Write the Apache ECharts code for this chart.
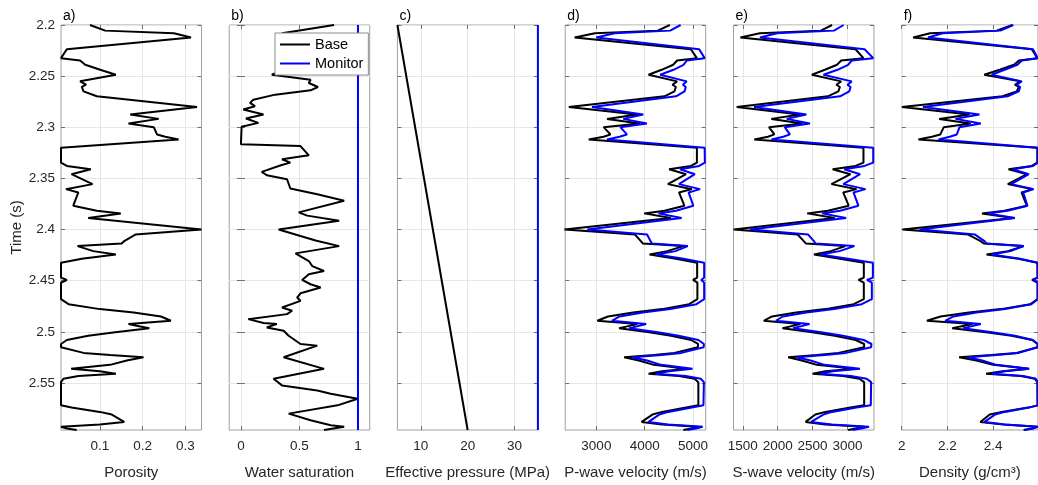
<!DOCTYPE html>
<html><head><meta charset="utf-8">
<script src="https://cdn.jsdelivr.net/npm/echarts@6/dist/echarts.min.js"></script>
<style>html,body{margin:0;padding:0;background:#fff}#c{width:1038px;height:485px}</style>
</head><body><div id="c"></div><script>
// ---- data (time in s) ----
const time = [2.2000,2.2055,2.2081,2.2123,2.2237,2.2324,2.2347,2.2389,2.2438,2.2486,
2.2551,2.2584,2.2606,2.2649,2.2697,2.2801,2.2875,2.2918,2.2963,2.2999,
2.3070,2.3093,2.3119,2.3200,2.3346,2.3378,2.3411,2.3459,2.3556,2.3605,
2.3637,2.3767,2.3816,2.3842,2.3887,2.4000,2.4049,2.4113,2.4136,2.4162,
2.4211,2.4243,2.4285,2.4324,2.4470,2.4493,2.4519,2.4681,2.4730,2.4778,
2.4811,2.4850,2.4892,2.4924,2.4947,2.4966,2.5005,2.5038,2.5080,2.5119,
2.5151,2.5206,2.5226,2.5248,2.5281,2.5323,2.5362,2.5385,2.5411,2.5433,
2.5459,2.5492,2.5719,2.5741,2.5783,2.5809,2.5881,2.5907,2.5929,2.5946,2.5960];
const porosity = [0.077,0.1125,0.273,0.313,0.023,0.0094,0.054,0.066,0.101,0.1375,
0.054,0.068,0.058,0.062,0.093,0.327,0.171,0.2375,0.167,0.226,
0.2336,0.253,0.284,0.0094,0.0094,0.023,0.079,0.034,0.083,0.021,
0.05,0.038,0.093,0.149,0.073,0.3375,0.183,0.157,0.151,0.048,
0.085,0.1375,0.058,0.0094,0.0094,0.023,0.0094,0.0094,0.027,0.1,
0.179,0.243,0.266,0.167,0.1945,0.2156,0.136,0.073,0.023,0.0094,
0.0094,0.062,0.124,0.202,0.163,0.124,0.033,0.1,0.1375,0.05,
0.015,0.0094,0.0094,0.034,0.1,0.128,0.157,0.1,0.0094,0.023,0.046];
const vpBase = [4520,4270,2970,2550,4955,5080,4670,4590,4350,4080,
4670,4575,4645,4615,4410,2430,3840,3220,3900,3150,
3290,3150,2842,5080,5080,4955,4505,4855,4480,4975,
4710,4820,4410,3990,4545,2340,3800,3920,3960,4800,
4465,4100,4645,5085,5085,5000,5090,5090,4920,4360,
3760,3240,3020,3850,3640,3470,4095,4545,4960,5105,
5100,4615,4190,3575,3880,4190,4865,4360,4080,4710,
5030,5110,5110,4855,4360,4160,3935,4360,5110,4960,4800];
const vpMonitor = [4743,4527,3379,2997,5127,5240,4871,4803,4596,4320,
4870,4790,4850,4824,4648,2910,3970,3557,4045,3495,
3632,3480,3220,5240,5245,5127,4730,5037,4709,5145,
4908,5006,4648,4282,4764,2810,4050,4120,4150,4890,
4635,4250,4800,5230,5230,5170,5230,5230,5070,4530,
3960,3480,3320,4030,3840,3680,4270,4700,5110,5225,
5220,4760,4350,3740,4050,4340,4990,4500,4220,4850,
5160,5225,5215,4975,4490,4300,4080,4480,5200,5060,4880];
const vsBase = [2780,2618,1744,1465,3116,3230,2911,2851,2676,2490,
2911,2841,2892,2870,2719,1412,2317,1909,2356,1875,
1952,1860,1664,3230,3230,3116,2788,3044,2771,3131,
2939,3018,2719,2423,2818,1368,2286,2374,2403,2970,
2760,2520,2892,3235,3235,3160,3235,3235,3090,2683,
2265,1918,1800,2326,2183,2069,2495,2818,3120,3240,
3240,2870,2561,2150,2347,2561,3100,2683,2500,2939,
3170,3240,3240,3044,2683,2540,2400,2683,3240,3120,3010];
const vsMonitor = [2945,2807,1990,1745,3246,3370,3061,3010,2858,2656,
3061,3001,3045,3026,2895,1660,2411,2129,2462,2100,
2175,2080,1910,3370,3370,3246,2955,3181,2941,3259,
3087,3157,2895,2636,2981,1600,2437,2519,2542,3100,
2887,2610,3008,3365,3365,3280,3350,3350,3204,2809,
2410,2071,1975,2456,2327,2220,2623,2934,3235,3345,
3340,2980,2679,2270,2471,2671,3180,2790,2600,3050,
3275,3340,3335,3130,2780,2654,2480,2770,3310,3200,3070];
const rhoBase = [2.484,2.415,2.124,2.050,2.569,2.593,2.513,2.491,2.428,2.361,
2.518,2.495,2.512,2.503,2.441,2.001,2.297,2.164,2.302,2.184,
2.169,2.132,2.073,2.593,2.593,2.569,2.467,2.548,2.464,2.573,
2.524,2.547,2.449,2.351,2.488,2.003,2.291,2.345,2.359,2.532,
2.464,2.371,2.510,2.593,2.594,2.570,2.594,2.594,2.562,2.433,
2.294,2.170,2.110,2.310,2.258,2.221,2.369,2.481,2.570,2.594,
2.594,2.502,2.392,2.251,2.327,2.400,2.555,2.440,2.369,2.521,
2.583,2.593,2.594,2.553,2.437,2.385,2.344,2.445,2.594,2.571,2.533];
const rhoMonitor = [2.488,2.432,2.179,2.115,2.574,2.595,2.525,2.506,2.450,2.393,
2.525,2.503,2.518,2.512,2.463,2.093,2.340,2.235,2.346,2.253,
2.241,2.210,2.161,2.595,2.595,2.574,2.485,2.556,2.479,2.577,
2.531,2.550,2.463,2.375,2.495,2.078,2.321,2.362,2.371,2.534,
2.476,2.393,2.518,2.595,2.595,2.574,2.595,2.595,2.567,2.452,
2.327,2.226,2.190,2.346,2.303,2.269,2.395,2.495,2.574,2.595,
2.595,2.512,2.414,2.291,2.352,2.414,2.558,2.452,2.393,2.531,
2.586,2.595,2.595,2.556,2.452,2.408,2.362,2.452,2.595,2.574,2.537];
const swTime = [2.2000,2.2081,2.2150,2.2280,2.2400,2.2486,2.2535,2.2567,2.2606,2.2639,
2.2681,2.2730,2.2762,2.2794,2.2827,2.2875,2.2914,2.2957,2.2995,2.3167,
2.3184,2.3274,2.3313,2.3346,2.3372,2.3436,2.3469,2.3508,2.3599,2.3654,
2.3719,2.3832,2.3864,2.3913,2.4000,2.4107,2.4162,2.4233,2.4308,2.4357,
2.4405,2.4438,2.4493,2.4535,2.4567,2.4623,2.4665,2.4697,2.4762,2.4794,
2.4827,2.4876,2.4914,2.4924,2.4957,2.4989,2.5038,2.5119,2.5135,2.5248,
2.5362,2.5459,2.5524,2.5573,2.5605,2.5654,2.5719,2.5800,2.5864,2.5913,
2.5929,2.5960];
const swBase = [0.796,0.351,0.40,0.55,0.45,0.264,0.595,0.580,0.658,0.595,
0.293,0.106,0.078,0.12,0.020,0.193,0.043,0.149,0.006,0.000,
0.509,0.580,0.351,0.422,0.342,0.178,0.221,0.394,0.422,0.652,
0.882,0.494,0.566,0.839,0.322,0.638,0.839,0.466,0.580,0.609,
0.710,0.580,0.523,0.595,0.681,0.509,0.480,0.509,0.351,0.437,
0.394,0.063,0.193,0.307,0.221,0.365,0.408,0.509,0.652,0.365,
0.710,0.279,0.351,0.652,0.767,0.997,0.825,0.408,0.595,0.767,
0.882,0.710];
const swMonitorTime = [2.2, 2.596];
const swMonitor = [1, 1];
const pressureTime = [2.2, 2.596];
const pressureBase = [5, 20];
const pressureMonitor = [35, 35];
// tick labels
const timeTicks = [2.2,2.25,2.3,2.35,2.4,2.45,2.5,2.55];
const porosityTicks = [0.1,0.2,0.3];
const swTicks = [0,0.5,1];
const pressureTicks = [10,20,30];
const vpTicks = [3000,4000,5000];
const vsTicks = [1500,2000,2500,3000];
const rhoTicks = [2,2.2,2.4,2.6];
const panelTitles = ['Porosity','Water saturation','Effective pressure (MPa)','P-wave velocity (m/s)','S-wave velocity (m/s)','Density (g/cm³)'];
const panelLetters = ['a)','b)','c)','d)','e)','f)'];

// ---- layout ----
const FONT = '"Liberation Sans", Arial, Helvetica, sans-serif';
const TXT = '#262626';
const TOP = 25, H = 406.7, W = 140.5;
const lefts = [61, 229.2, 397.4, 565.2, 733.5, 901.7];
const xRanges = [[0.0094,0.3375],[-0.1,1.1],[5,35],[2355,5262],[1366,3381],[2.0,2.596]];
const xTickSets = [porosityTicks, swTicks, pressureTicks, vpTicks, vsTicks, rhoTicks];
const yMin = 2.2, yMax = 2.596;

const pairs = (xs, ts) => ts.map((t,i)=>[xs[i], t]);

const grids = [], xAxes = [], yAxes = [], titles = [];
const tickStyle = {color:'#6e6e6e'};
for (let i=0;i<6;i++){
  grids.push({left:lefts[i], top:TOP, width:W, height:H, show:true, borderColor:'#a0a0a0', borderWidth:1, backgroundColor:'transparent'});
  xAxes.push({type:'value', gridIndex:i, min:xRanges[i][0], max:xRanges[i][1], position:'bottom',
    axisLine:{show:false},
    axisTick:{show:true, inside:true, length:4, customValues:xTickSets[i], lineStyle:tickStyle},
    axisLabel:{customValues:xTickSets[i], color:TXT, fontSize:13.5, fontFamily:FONT, margin:9, formatter:v=>String(v)},
    splitLine:{show:true, lineStyle:{color:'#e6e6e6', width:1}},
    name:panelTitles[i], nameLocation:'middle', nameGap:35,
    nameTextStyle:{color:TXT, fontSize:15, fontFamily:FONT}});
  yAxes.push({type:'value', gridIndex:i, min:yMin, max:yMax, inverse:true,
    axisLine:{show:false},
    axisTick:{show:true, inside:true, length:4, customValues:timeTicks, lineStyle:tickStyle},
    axisLabel:{show:i===0, customValues:timeTicks, color:TXT, fontSize:13.5, fontFamily:FONT, margin:6, formatter:v=>String(v)},
    splitLine:{show:true, lineStyle:{color:'#e6e6e6', width:1}},
    name: i===0 ? 'Time (s)' : '', nameLocation:'middle', nameGap:37,
    nameTextStyle:{color:TXT, fontSize:15, fontFamily:FONT}});
  titles.push({text:panelLetters[i], left:lefts[i]+2, top:9, padding:0,
    textStyle:{fontSize:14, fontWeight:'normal', color:'#000', fontFamily:FONT}});
}
// mirrored ticks on top and right edges (box style)
for (let i=0;i<6;i++){
  xAxes.push({type:'value', gridIndex:i, min:xRanges[i][0], max:xRanges[i][1], position:'top',
    axisLine:{show:false}, axisLabel:{show:false}, splitLine:{show:false},
    axisTick:{show:true, inside:true, length:4, customValues:xTickSets[i], lineStyle:tickStyle}});
  yAxes.push({type:'value', gridIndex:i, min:yMin, max:yMax, inverse:true, position:'right',
    axisLine:{show:false}, axisLabel:{show:false}, splitLine:{show:false},
    axisTick:{show:true, inside:true, length:4, customValues:timeTicks, lineStyle:tickStyle}});
}

const line = (name, color, idx, data, extra) => Object.assign({
  type:'line', name, xAxisIndex:idx, yAxisIndex:idx, data, symbol:'none', showSymbol:false,
  lineStyle:{width:2, color}, itemStyle:{color}, animation:false, z:3
}, extra||{});

const BLACK = '#000000', BLUE = '#0000ff';
const series = [
  line('Base', BLACK, 0, pairs(porosity, time)),
  line('Base', BLACK, 1, pairs(swBase, swTime)),
  line('Monitor', BLUE, 1, pairs(swMonitor, swMonitorTime)),
  line('Base', BLACK, 2, pairs(pressureBase, pressureTime)),
  line('Monitor', BLUE, 2, pairs(pressureMonitor, pressureTime), {clip:false}),
  line('Base', BLACK, 3, pairs(vpBase, time)),
  line('Monitor', BLUE, 3, pairs(vpMonitor, time)),
  line('Base', BLACK, 4, pairs(vsBase, time)),
  line('Monitor', BLUE, 4, pairs(vsMonitor, time)),
  line('Base', BLACK, 5, pairs(rhoBase, time)),
  line('Monitor', BLUE, 5, pairs(rhoMonitor, time))
];

const chart = echarts.init(document.getElementById('c'), null, {renderer:'canvas'});
chart.setOption({
  backgroundColor:'#ffffff',
  animation:false,
  title: titles,
  legend:{data:['Base','Monitor'], orient:'vertical', left:275, top:33, icon:'rect', itemWidth:30, itemHeight:2,
    itemGap:4, padding:[4,5,4,5], backgroundColor:'#ffffff', borderColor:'#8c8c8c', borderWidth:1,
    textStyle:{color:'#000', fontSize:14.5, fontFamily:FONT}, z:10, selectedMode:false},
  grid: grids, xAxis: xAxes, yAxis: yAxes, series
});
</script></body></html>
